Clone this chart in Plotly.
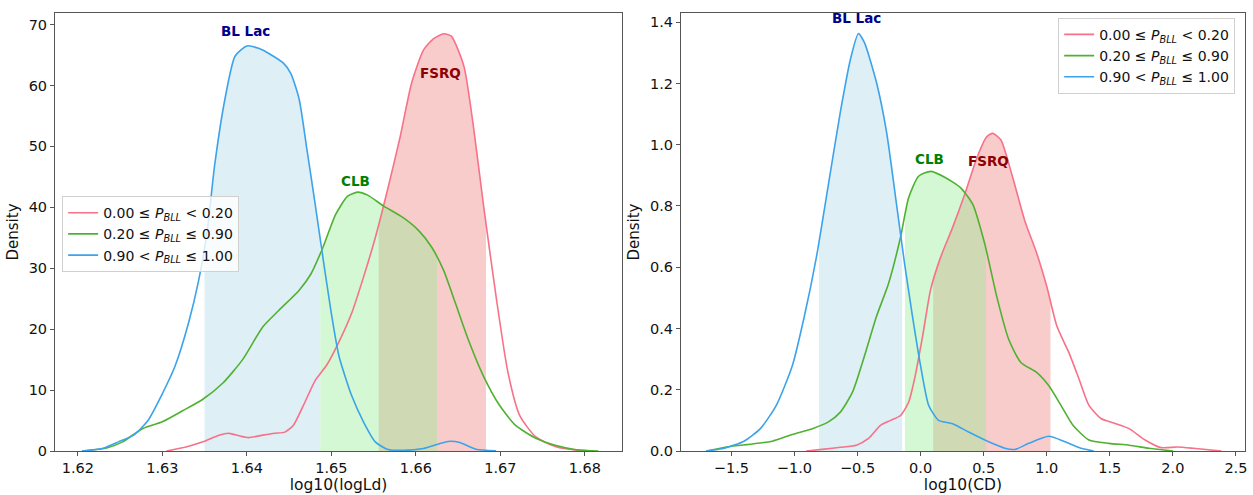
import numpy as np
import plotly.graph_objects as go

# ---------------- data: left panel (log10(logLd)) ----------------
L_blue_x = [1.6205, 1.6229, 1.6248, 1.6267, 1.6283, 1.6300, 1.6315, 1.6331, 1.6343, 1.6353, 1.6362,
            1.6374, 1.6386, 1.6400, 1.6414, 1.6429, 1.6443, 1.6452, 1.6462, 1.6471, 1.6481, 1.6490,
            1.6500, 1.6509, 1.6524, 1.6538, 1.6552, 1.6566, 1.6585, 1.6609, 1.6628, 1.6640, 1.6652,
            1.6671, 1.6695]
L_blue_y = [0.0, 0.4, 1.5, 2.7, 5.0, 9.4, 13.9, 21.0, 28.0, 36.0, 47.0,
            57.7, 64.8, 66.5, 66.1, 65.0, 63.7, 62.0, 57.7, 49.6, 40.4, 31.8,
            22.6, 15.6, 9.1, 4.8, 1.5, 0.3, 0.1, 0.4, 1.2, 1.6, 1.4,
            0.3, 0.05]

L_pink_x = [1.6305, 1.6329, 1.6348, 1.6367, 1.6379, 1.6391, 1.6402, 1.6419, 1.6433, 1.6445, 1.6455,
            1.6467, 1.6481, 1.6495, 1.6509, 1.6524, 1.6538, 1.6552, 1.6566, 1.6581, 1.6595, 1.6609,
            1.6621, 1.6633, 1.6642, 1.6657, 1.6668, 1.6680, 1.6695, 1.6709, 1.6723, 1.6742, 1.6766,
            1.6790, 1.6811]
L_pink_y = [0.0, 0.7, 1.5, 2.6, 2.9, 2.5, 2.2, 2.6, 2.9, 3.1, 4.2,
            7.5, 11.6, 14.2, 17.9, 22.6, 28.5, 35.0, 42.6, 51.3, 60.4, 65.8,
            67.7, 68.5, 68.1, 63.1, 53.4, 40.4, 25.3, 12.9, 5.8, 2.3, 0.7,
            0.15, 0.0]

L_green_x = [1.6205, 1.6234, 1.6253, 1.6277, 1.6300, 1.6324, 1.6348, 1.6372, 1.6395, 1.6419, 1.6438,
             1.6462, 1.6476, 1.6490, 1.6505, 1.6519, 1.6531, 1.6543, 1.6562, 1.6585, 1.6604, 1.6619,
             1.6633, 1.6647, 1.6662, 1.6680, 1.6699, 1.6718, 1.6742, 1.6766, 1.6790, 1.6816]
L_green_y = [0.0, 0.5, 1.5, 3.7, 4.8, 6.6, 8.5, 11.2, 15.0, 20.4, 23.1,
             26.4, 29.1, 33.4, 38.8, 41.8, 42.5, 42.0, 40.2, 38.3, 36.1, 33.4,
             29.6, 24.2, 18.3, 12.3, 7.5, 4.2, 2.1, 0.9, 0.2, 0.0]

L_fill_blue = (1.6350, 1.6487)
L_fill_green = (1.6487, 1.6625)
L_fill_pink = (1.6556, 1.6683)

# ---------------- data: right panel (log10(CD)) ----------------
R_blue_x = [-1.70, -1.557, -1.40, -1.27, -1.144, -1.017, -0.922, -0.826, -0.731, -0.636, -0.556,
            -0.493, -0.445, -0.350, -0.270, -0.191, -0.127, -0.064, 0.0, 0.064, 0.143, 0.254,
            0.381, 0.540, 0.668, 0.747, 0.858, 1.017, 1.144, 1.271, 1.373]
R_blue_y = [0.0, 0.009, 0.032, 0.073, 0.149, 0.278, 0.439, 0.633, 0.870, 1.107, 1.279,
            1.363, 1.333, 1.204, 1.042, 0.806, 0.612, 0.439, 0.278, 0.149, 0.100, 0.089,
            0.062, 0.030, 0.009, 0.005, 0.025, 0.048, 0.030, 0.009, 0.0]

R_green_x = [-1.70, -1.526, -1.335, -1.176, -1.017, -0.858, -0.731, -0.636, -0.540, -0.445, -0.350,
             -0.254, -0.159, -0.095, -0.016, 0.079, 0.191, 0.318, 0.413, 0.509, 0.604, 0.699,
             0.795, 0.922, 1.017, 1.113, 1.208, 1.335, 1.494, 1.653, 1.812, 2.003]
R_green_y = [0.0, 0.014, 0.023, 0.032, 0.054, 0.073, 0.095, 0.127, 0.192, 0.310, 0.439,
             0.547, 0.698, 0.827, 0.897, 0.913, 0.894, 0.859, 0.806, 0.676, 0.504, 0.364,
             0.289, 0.256, 0.213, 0.149, 0.084, 0.036, 0.025, 0.019, 0.009, 0.0]

R_pink_x = [-0.906, -0.763, -0.636, -0.509, -0.413, -0.318, -0.238, -0.159, -0.095, -0.048, 0.016,
            0.079, 0.159, 0.254, 0.350, 0.445, 0.524, 0.572, 0.636, 0.731, 0.826, 0.922,
            1.001, 1.081, 1.176, 1.256, 1.335, 1.430, 1.526, 1.653, 1.780, 1.907, 2.034,
            2.161, 2.384]
R_pink_y = [0.0, 0.006, 0.012, 0.019, 0.041, 0.084, 0.100, 0.116, 0.159, 0.235, 0.375,
            0.526, 0.633, 0.730, 0.838, 0.956, 1.026, 1.037, 1.016, 0.892, 0.752, 0.644,
            0.536, 0.407, 0.321, 0.235, 0.149, 0.106, 0.092, 0.073, 0.036, 0.011, 0.013,
            0.009, 0.0]

R_fill_blue = (-0.806, -0.146)
R_fill_green = (-0.124, 0.518)
R_fill_pink = (0.100, 1.030)

# labels
legend_labels = [
    "0.00 ≤ <i>P</i><sub><i>BLL</i></sub> &lt; 0.20",
    "0.20 ≤ <i>P</i><sub><i>BLL</i></sub> ≤ 0.90",
    "0.90 &lt; <i>P</i><sub><i>BLL</i></sub> ≤ 1.00",
]
L_xticks = [1.62, 1.63, 1.64, 1.65, 1.66, 1.67, 1.68]
L_yticks = [0, 10, 20, 30, 40, 50, 60, 70]
R_xticks = [-1.5, -1.0, -0.5, 0.0, 0.5, 1.0, 1.5, 2.0, 2.5]
R_xticklabels = ["−1.5", "−1.0", "−0.5", "0.0", "0.5", "1.0", "1.5", "2.0", "2.5"]
R_yticks = [0.0, 0.2, 0.4, 0.6, 0.8, 1.0, 1.2, 1.4]

L_annot = [("BL Lac", 1.6398, 69.0, "#00008b"), ("CLB", 1.6529, 44.4, "#008000"), ("FSRQ", 1.6629, 62.1, "#8b0000")]
R_annot = [("BL Lac", -0.506, 1.415, "#00008b"), ("CLB", 0.07, 0.953, "#008000"), ("FSRQ", 0.54, 0.947, "#8b0000")]

# styles
C_PINK, C_GREEN, C_BLUE = "#f77189", "#50b131", "#3ba3ec"
F_BLUE = "rgba(173,216,230,0.4)"
F_GREEN = "rgba(144,238,144,0.4)"
F_PINK = "rgba(240,128,128,0.4)"
FONT = "DejaVu Sans"

fig = go.Figure()


def fill_segment(xs, ys, rng, color, xa, ya):
    xs = np.asarray(xs, float)
    ys = np.asarray(ys, float)
    a, b = rng
    inner = (xs > a) & (xs < b)
    fx = np.concatenate([[a], xs[inner], [b]])
    fy = np.concatenate([[np.interp(a, xs, ys)], ys[inner], [np.interp(b, xs, ys)]])
    fig.add_trace(go.Scatter(x=fx, y=fy, mode="lines", line=dict(width=0, shape="spline", smoothing=0.6),
                             fill="tozeroy", fillcolor=color, showlegend=False, hoverinfo="skip",
                             xaxis=xa, yaxis=ya))


# fills: blue, pink, then green on top
fill_segment(L_blue_x, L_blue_y, L_fill_blue, F_BLUE, "x", "y")
fill_segment(L_pink_x, L_pink_y, L_fill_pink, F_PINK, "x", "y")
fill_segment(L_green_x, L_green_y, L_fill_green, F_GREEN, "x", "y")
fill_segment(R_blue_x, R_blue_y, R_fill_blue, F_BLUE, "x2", "y2")
fill_segment(R_pink_x, R_pink_y, R_fill_pink, F_PINK, "x2", "y2")
fill_segment(R_green_x, R_green_y, R_fill_green, F_GREEN, "x2", "y2")

series_L = [(L_pink_x, L_pink_y, C_PINK), (L_green_x, L_green_y, C_GREEN), (L_blue_x, L_blue_y, C_BLUE)]
series_R = [(R_pink_x, R_pink_y, C_PINK), (R_green_x, R_green_y, C_GREEN), (R_blue_x, R_blue_y, C_BLUE)]

for (xs, ys, c), lab in zip(series_L, legend_labels):
    fig.add_trace(go.Scatter(x=xs, y=ys, mode="lines", name=lab,
                             line=dict(color=c, width=1.6, shape="spline", smoothing=0.6),
                             xaxis="x", yaxis="y", legend="legend"))
for (xs, ys, c), lab in zip(series_R, legend_labels):
    fig.add_trace(go.Scatter(x=xs, y=ys, mode="lines", name=lab,
                             line=dict(color=c, width=1.6, shape="spline", smoothing=0.6),
                             xaxis="x2", yaxis="y2", legend="legend2"))

annots = []
for txt, x, y, c in L_annot:
    annots.append(dict(text=f"<b>{txt}</b>", x=x, y=y, xref="x", yref="y", showarrow=False,
                       font=dict(family=FONT, size=13.5, color=c)))
for txt, x, y, c in R_annot:
    annots.append(dict(text=f"<b>{txt}</b>", x=x, y=y, xref="x2", yref="y2", showarrow=False,
                       font=dict(family=FONT, size=13.5, color=c)))

axis_common = dict(showline=True, linecolor="#555", linewidth=1, mirror=True, ticks="outside",
                   ticklen=4, tickcolor="#555", showgrid=False, zeroline=False,
                   tickfont=dict(family=FONT, size=14.5, color="#111"))

legend_common = dict(font=dict(family=FONT, size=14, color="#111"), bgcolor="rgba(255,255,255,0.8)",
                     bordercolor="#d0d0d0", borderwidth=1, xanchor="left", yanchor="top",
                     tracegroupgap=0, itemwidth=30)

fig.update_layout(
    width=1253, height=495,
    margin=dict(l=55, r=6, t=13, b=39),
    plot_bgcolor="white", paper_bgcolor="white",
    font=dict(family=FONT, size=14, color="#111"),
    xaxis=dict(domain=[0, 0.4765], range=[1.6173, 1.6844], tickvals=L_xticks,
               ticktext=[f"{v:.2f}" for v in L_xticks],
               title=dict(text="log10(logLd)", font=dict(family=FONT, size=15.5), standoff=2), **axis_common),
    yaxis=dict(range=[0, 71.9], tickvals=L_yticks, ticktext=[str(v) for v in L_yticks],
               title=dict(text="Density", font=dict(family=FONT, size=15), standoff=6), **axis_common),
    xaxis2=dict(domain=[0.526, 1.0], range=[-1.90, 2.572], tickvals=R_xticks, ticktext=R_xticklabels,
                title=dict(text="log10(CD)", font=dict(family=FONT, size=15.5), standoff=2),
                anchor="y2", **axis_common),
    yaxis2=dict(range=[0, 1.43], tickvals=R_yticks, ticktext=[f"{v:.1f}" for v in R_yticks],
                title=dict(text="Density", font=dict(family=FONT, size=15), standoff=6),
                anchor="x2", **axis_common),
    legend=dict(x=0.006, y=0.582, **legend_common),
    legend2=dict(x=0.843, y=0.989, **legend_common),
    annotations=annots,
)

fig.write_html("out.html")
